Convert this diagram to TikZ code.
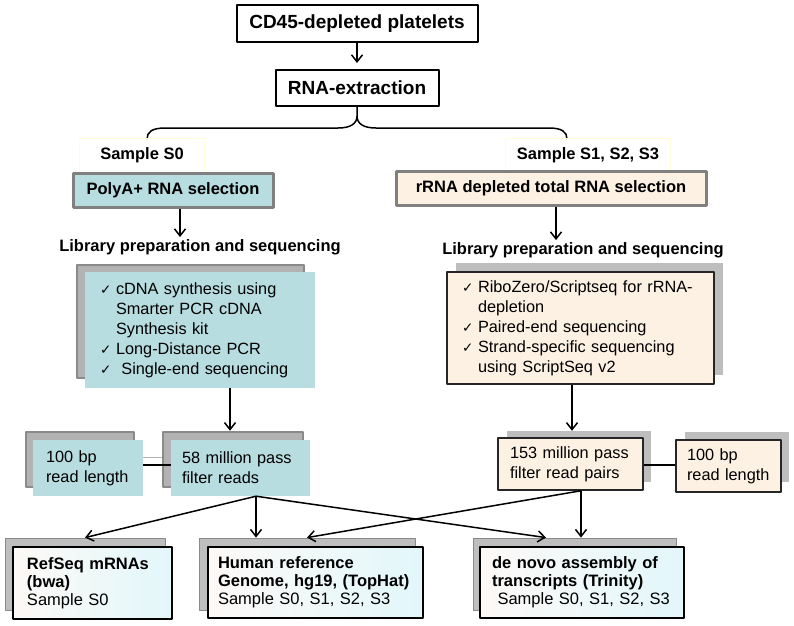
\documentclass[tikz,border=0pt]{standalone}
\usepackage{fontspec}
\setmainfont{Liberation Sans}
\newfontfamily\symfont{DejaVu Sans}
\usetikzlibrary{arrows.meta}
\definecolor{tealbox}{RGB}{183,221,225}
\definecolor{peachbox}{RGB}{253,241,228}
\definecolor{edgegray}{RGB}{128,128,128}
\definecolor{shadedark}{RGB}{138,138,138}
\definecolor{shadelight}{RGB}{178,178,178}
\definecolor{shadeflat}{RGB}{190,190,190}
\definecolor{tintL}{RGB}{253,249,247}
\definecolor{tintR}{RGB}{226,247,250}
\definecolor{paleyellow}{RGB}{255,255,215}
\newcommand{\checkmk}{\makebox[16pt][l]{\symfont\fontsize{13.5}{13.5}\selectfont ✓}}
\newcommand{\indentmk}{\hspace*{16pt}}
\begin{document}
\begin{tikzpicture}[x=1pt,y=-1pt,line join=round,
    >={Straight Barb[length=7pt,width=11pt]},
    font=\fontsize{16.3}{20}\selectfont,
    arr/.style={->,line width=1.5pt},
    topbox/.style={draw=black,line width=2pt,fill=white,inner sep=0pt,
      font=\fontsize{19}{22}\selectfont\bfseries},
    samplebox/.style={draw=paleyellow,line width=1pt,inner sep=0pt,
      font=\fontsize{16.5}{20}\selectfont\bfseries},
    selbox/.style={draw=edgegray,line width=3pt,inner sep=0pt,
      font=\fontsize{16.5}{20}\selectfont\bfseries},
    libtitle/.style={inner sep=2pt,font=\fontsize{16.5}{20}\selectfont\bfseries},
    listbox/.style={align=left,inner xsep=15pt,inner ysep=0pt},
    smallbox/.style={align=left,inner xsep=12pt,inner ysep=0pt},
    resultbox/.style={draw=black,line width=2pt,left color=tintL,right color=tintR,
      align=left,inner xsep=12pt,inner ysep=0pt,font=\fontsize{16.5}{18}\selectfont},
    shadeL/.style={draw=shadedark,line width=2.5pt,fill=shadelight,inner sep=0pt},
    shadeR/.style={fill=shadeflat,inner sep=0pt},
    shadeB/.style={draw=shadedark,line width=0.8pt,fill=shadeflat,inner sep=0pt}]
  \useasboundingbox (0,0) rectangle (794,625);
  % Top
  \node[topbox,minimum width=241,minimum height=37] (cd45) at (357,23.5) {CD45-depleted platelets};
  \node[topbox,minimum width=163,minimum height=36] (rnaext) at (357,88) {RNA-extraction};
  \draw[arr] (cd45.south) -- ([yshift=6pt]rnaext.north);
  % Brace
  \draw[line width=1.5pt] (rnaext.south) -- (357,116)
    .. controls (357,124) and (350,128) .. (338,128) -- (165,128)
    .. controls (152,128) and (147,132) .. (147,139);
  \draw[line width=1.5pt] (357,116)
    .. controls (357,124) and (364,128) .. (376,128) -- (549,128)
    .. controls (562,128) and (567,132) .. (567,139);
  % Samples
  \node[samplebox,minimum width=125,minimum height=34] (lab0) at (142,155) {Sample S0};
  \node[samplebox,minimum width=165,minimum height=34] (lab123) at (588,155) {Sample S1, S2, S3};
  \node[selbox,fill=tealbox,minimum width=200,minimum height=34] (polya) at (173,190) {PolyA+ RNA selection};
  \node[selbox,fill=peachbox,minimum width=310,minimum height=34] (rrna) at (551,188) {rRNA depleted total RNA selection};
  % Library preparation
  \node[libtitle] (libL) at (200,247) {Library preparation and sequencing};
  \node[libtitle] (libR) at (583,250) {Library preparation and sequencing};
  \draw[arr] ([xshift=7pt]polya.south) -- ([xshift=7pt]polya.south |- libL.north);
  \draw[arr] ([xshift=5pt]rrna.south) -- ([xshift=5pt]rrna.south |- libR.north);
  \node[shadeL,minimum width=227,minimum height=113] (listLS) at (190.5,321.5) {};
  \node[listbox,fill=tealbox,text width=200,minimum height=116] (listL) at (200,330)
    {\checkmk cDNA synthesis using\\\indentmk Smarter PCR cDNA\\\indentmk Synthesis kit\\
     \checkmk Long-Distance PCR\\\checkmk\ Single-end sequencing};
  \node[shadeR,minimum width=267,minimum height=112] (listRS) at (589.5,319) {};
  \node[listbox,draw=black!85,line width=1.5pt,fill=peachbox,text width=237,minimum height=112] (listR) at (580.5,328)
    {\checkmk RiboZero/Scriptseq for rRNA-\\\indentmk depletion\\\checkmk Paired-end sequencing\\
     \checkmk Strand-specific sequencing\\\indentmk using ScriptSeq v2};
  % Reads
  \node[shadeL,minimum width=108,minimum height=55] (len100LS) at (80,459.5) {};
  \node[shadeL,minimum width=140,minimum height=55] (reads58S) at (233,459.5) {};
  \draw[draw=shadelight,line width=1.5pt] ([yshift=2pt]len100LS.east) -- ([yshift=2pt]len100LS.east -| reads58S.west);
  \node[smallbox,fill=tealbox,inner xsep=13pt,text width=84,minimum height=56] (len100L) at (88,468) {100 bp\\read length};
  \node[smallbox,fill=tealbox,inner xsep=11pt,text width=117,minimum height=56] (reads58) at (240.5,468) {58 million pass\\filter reads};
  \draw[line width=1.5pt] ([yshift=3pt]len100L.east) -- ([yshift=3pt]len100L.east -| reads58.west);
  \node[shadeR,minimum width=144,minimum height=51] (pairs153S) at (579,456.5) {};
  \node[shadeR,minimum width=104,minimum height=50] (len100RS) at (737,457) {};
  \node[smallbox,draw=black!85,line width=1.5pt,fill=peachbox,text width=121,minimum height=52] (pairs153) at (570.5,464) {153 million pass\\filter read pairs};
  \node[smallbox,draw=black!85,line width=1.5pt,fill=peachbox,inner xsep=11pt,text width=83,minimum height=52] (len100R) at (728.5,466) {100 bp\\read length};
  \draw[line width=1.5pt] ([yshift=-1pt]pairs153.east) -- ([yshift=-1pt]pairs153.east -| len100R.west);
  \draw[arr] ([xshift=30pt]listL.south) -- ([xshift=30pt]listL.south |- reads58S.north);
  \draw[arr] ([xshift=-8.5pt]listR.south) -- ([xshift=-8.5pt]listR.south |- pairs153S.north);
  % Results
  \node[shadeB,minimum width=160,minimum height=72] (refseqS) at (85,574) {};
  \node[shadeB,minimum width=216,minimum height=72] (humanS) at (307,574) {};
  \node[shadeB,minimum width=203,minimum height=72] (denovoS) at (574.5,574) {};
  \node[resultbox,inner xsep=14pt,text width=131,minimum height=72] (refseq) at (92.5,583)
    {\textbf{RefSeq mRNAs}\\\textbf{(bwa)}\\Sample S0};
  \node[resultbox,inner xsep=10pt,text width=195,minimum height=71] (human) at (315.5,582.5)
    {\textbf{Human reference}\\\textbf{Genome, hg19, (TopHat)}\\Sample S0, S1, S2, S3};
  \node[resultbox,inner xsep=12pt,text width=180,minimum height=71] (denovo) at (582,582.5)
    {\textbf{de novo assembly of}\\\textbf{transcripts (Trinity)}\\\ Sample S0, S1, S2, S3};
  \coordinate (fork58) at ([xshift=15.5pt]reads58.south);
  \coordinate (fork153) at ([xshift=10.5pt]pairs153.south);
  \draw[arr] (fork58) -- (refseqS.north);
  \draw[arr] (fork58) -- (fork58 |- humanS.north);
  \draw[arr] (fork58) -- ([xshift=-28.5pt]denovoS.north);
  \draw[arr] (fork153) -- (humanS.north);
  \draw[arr] (fork153) -- (fork153 |- denovoS.north);
\end{tikzpicture}
\end{document}
